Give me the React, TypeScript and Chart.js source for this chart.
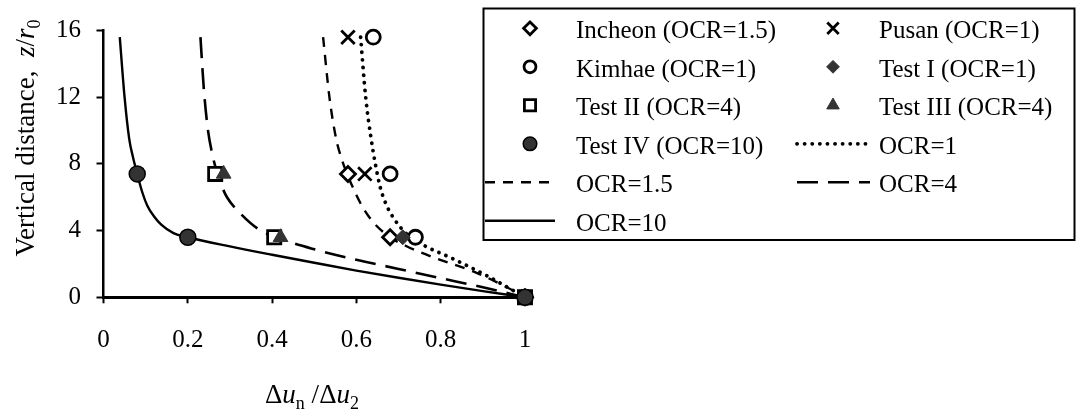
import React, { useEffect, useRef } from 'react';
import { Chart, registerables } from 'chart.js';
Chart.register(...registerables);

const FONT = '"Liberation Serif", "Times New Roman", serif';

const xTickValues = [0, 0.2, 0.4, 0.6, 0.8, 1];
const xTickLabels = ['0', '0.2', '0.4', '0.6', '0.8', '1'];
const yTickValues = [0, 4, 8, 12, 16];
const yTickLabels = ['0', '4', '8', '12', '16'];

// measured points
const incheonX = [0.58, 0.68, 1];
const incheonY = [7.4, 3.6, 0];
const pusanX = [0.58, 0.62, 1];
const pusanY = [15.6, 7.4, 0];
const kimhaeX = [0.64, 0.68, 0.74, 1];
const kimhaeY = [15.6, 7.4, 3.6, 0];
const test1X = [0.71, 1];
const test1Y = [3.6, 0];
const test2X = [0.265, 0.405, 1];
const test2Y = [7.4, 3.6, 0];
const test3X = [0.285, 0.42, 1];
const test3Y = [7.4, 3.6, 0];
const test4X = [0.08, 0.2, 1];
const test4Y = [7.4, 3.6, 0];

// predicted curves
const ocr1X = [0.61, 0.622, 0.635, 0.645, 0.656, 0.67, 0.688, 0.719, 0.751, 0.83, 0.909, 1];
const ocr1Y = [15.6, 12, 9.5, 8, 6.65, 5.6, 4.76, 3.8, 3.24, 2.3, 1.3, 0];
const ocr15X = [0.521, 0.536, 0.552, 0.565, 0.578, 0.595, 0.615, 0.64, 0.68, 0.719, 0.782, 0.877, 0.957, 1];
const ocr15Y = [15.6, 12, 9.5, 8.3, 7.4, 6.4, 5.4, 4.5, 3.6, 3.06, 2.4, 1.55, 0.6, 0];
const ocr4X = [0.23, 0.238, 0.248, 0.258, 0.268, 0.28, 0.293, 0.326, 0.37, 0.42, 0.5, 0.6, 0.7, 0.8, 0.9, 1];
const ocr4Y = [15.6, 12.5, 10, 8.6, 7.6, 6.7, 6, 5, 4.05, 3.5, 2.88, 2.25, 1.7, 1.15, 0.6, 0];
const ocr10X = [0.0386, 0.05, 0.061, 0.07, 0.08, 0.092, 0.104, 0.12, 0.137, 0.166, 0.2, 0.3, 0.4, 0.5, 0.6, 0.7, 0.8, 0.9, 1];
const ocr10Y = [15.6, 12, 9.5, 8.4, 7.4, 6.3, 5.49, 4.85, 4.36, 3.85, 3.6, 3.05, 2.55, 2.07, 1.6, 1.17, 0.76, 0.37, 0];

const zip = (xs: number[], ys: number[]) => xs.map((x, i) => ({ x, y: ys[i] }));

function drawMarker(ctx: CanvasRenderingContext2D, style: string, x: number, y: number, r: number, bg: string, border: string, bw: number) {
  ctx.save();
  ctx.fillStyle = bg;
  ctx.strokeStyle = border;
  ctx.lineWidth = bw;
  ctx.beginPath();
  if (style === 'circle') {
    ctx.arc(x, y, r, 0, Math.PI * 2);
    ctx.closePath();
    ctx.fill();
    if (bw > 0) ctx.stroke();
  } else if (style === 'rectRot') {
    ctx.moveTo(x, y - r);
    ctx.lineTo(x + r, y);
    ctx.lineTo(x, y + r);
    ctx.lineTo(x - r, y);
    ctx.closePath();
    ctx.fill();
    if (bw > 0) ctx.stroke();
  } else if (style === 'rect') {
    const s = r / Math.SQRT2;
    ctx.rect(x - s, y - s, 2 * s, 2 * s);
    ctx.fill();
    if (bw > 0) ctx.stroke();
  } else if (style === 'triangle') {
    let a = 0;
    ctx.moveTo(x + Math.sin(a) * r, y - Math.cos(a) * r);
    a += (2 * Math.PI) / 3;
    ctx.lineTo(x + Math.sin(a) * r, y - Math.cos(a) * r);
    a += (2 * Math.PI) / 3;
    ctx.lineTo(x + Math.sin(a) * r, y - Math.cos(a) * r);
    ctx.closePath();
    ctx.fill();
    if (bw > 0) ctx.stroke();
  } else if (style === 'crossRot') {
    const d = r * Math.SQRT1_2;
    ctx.moveTo(x - d, y - d);
    ctx.lineTo(x + d, y + d);
    ctx.moveTo(x + d, y - d);
    ctx.lineTo(x - d, y + d);
    ctx.stroke();
  }
  ctx.restore();
}

type Seg = { t: string; it?: boolean; sub?: boolean };

function drawRich(ctx: CanvasRenderingContext2D, segs: Seg[], cx: number, baseline: number, size: number) {
  const subSize = Math.round(size * 0.68);
  const fontOf = (s: Seg) => `${s.it ? 'italic ' : ''}${s.sub ? subSize : size}px ${FONT}`;
  let total = 0;
  const widths = segs.map((s) => {
    ctx.font = fontOf(s);
    const w = ctx.measureText(s.t).width;
    total += w;
    return w;
  });
  let x = cx - total / 2;
  ctx.textAlign = 'left';
  ctx.textBaseline = 'alphabetic';
  ctx.fillStyle = '#000';
  segs.forEach((s, i) => {
    ctx.font = fontOf(s);
    ctx.fillText(s.t, x, baseline + (s.sub ? size * 0.22 : 0));
    x += widths[i];
  });
}

const legendPlugin = {
  id: 'boxLegend',
  afterDraw(chart: any) {
    const ctx: CanvasRenderingContext2D = chart.ctx;
    ctx.save();
    ctx.lineWidth = 2;
    ctx.strokeStyle = '#000';
    ctx.strokeRect(483.5, 8.5, 591, 231.5);
    const cols = [
      { lx0: 485, lx1: 555, mx: 530, tx: 576 },
      { lx0: 797, lx1: 870, mx: 833, tx: 879 },
    ];
    chart.data.datasets.forEach((ds: any, i: number) => {
      const row = Math.floor(i / 2);
      const col = cols[i % 2];
      const y = 28.3 + row * 38.5;
      if (ds.showLine) {
        ctx.save();
        ctx.beginPath();
        ctx.strokeStyle = '#000';
        ctx.lineWidth = ds.borderWidth;
        ctx.lineCap = ds.borderCapStyle || 'butt';
        ctx.setLineDash(ds.borderDash || []);
        ctx.moveTo(col.lx0, y);
        ctx.lineTo(col.lx1, y);
        ctx.stroke();
        ctx.restore();
      } else {
        drawMarker(ctx, ds.pointStyle, col.mx, y, ds.pointRadius * 0.85, ds.pointBackgroundColor, ds.pointBorderColor, ds.pointBorderWidth);
      }
      ctx.font = `25px ${FONT}`;
      ctx.fillStyle = '#000';
      ctx.textAlign = 'left';
      ctx.textBaseline = 'alphabetic';
      ctx.fillText(ds.label, col.tx, y + 10);
    });
    ctx.restore();
  },
};

const titlePlugin = {
  id: 'richTitles',
  afterDraw(chart: any) {
    const ctx: CanvasRenderingContext2D = chart.ctx;
    ctx.save();
    drawRich(
      ctx,
      [{ t: '\u0394' }, { t: 'u', it: true }, { t: 'n', sub: true }, { t: ' /\u0394' }, { t: 'u', it: true }, { t: '2', sub: true }],
      312,
      403,
      27
    );
    ctx.restore();
    ctx.save();
    ctx.translate(34, 138);
    ctx.rotate(-Math.PI / 2);
    drawRich(
      ctx,
      [{ t: 'Vertical distance,  ' }, { t: 'z', it: true }, { t: '/' }, { t: 'r', it: true }, { t: '0', sub: true }],
      0,
      0,
      27
    );
    ctx.restore();
  },
};

export default function App() {
  const ref = useRef<HTMLCanvasElement>(null);
  useEffect(() => {
    if (!ref.current) return;
    const marker = (label: string, xs: number[], ys: number[], style: string, r: number, bg: string, border: string, bw: number, order: number) => ({
      label,
      data: zip(xs, ys),
      showLine: false,
      pointStyle: style,
      pointRadius: r,
      pointHoverRadius: r,
      pointBackgroundColor: bg,
      pointBorderColor: border,
      pointBorderWidth: bw,
      backgroundColor: bg,
      borderColor: border,
      order,
      clip: false,
    });
    const line = (label: string, xs: number[], ys: number[], dash: number[], cap: string, width: number) => ({
      label,
      data: zip(xs, ys),
      showLine: true,
      pointRadius: 0,
      pointHoverRadius: 0,
      borderColor: '#000',
      backgroundColor: '#000',
      borderWidth: width,
      borderDash: dash,
      borderCapStyle: cap,
      cubicInterpolationMode: 'monotone',
      fill: false,
      order: 100,
      clip: false,
    });
    const datasets: any[] = [
      marker('Incheon (OCR=1.5)', incheonX, incheonY, 'rectRot', 7.5, '#fff', '#000', 2.8, 20),
      marker('Pusan (OCR=1)', pusanX, pusanY, 'crossRot', 9.5, '#000', '#000', 2.8, 19),
      marker('Kimhae (OCR=1)', kimhaeX, kimhaeY, 'circle', 7, '#fff', '#000', 2.8, 18),
      marker('Test I (OCR=1)', test1X, test1Y, 'rectRot', 7.5, '#333', '#333', 1, 17),
      marker('Test II (OCR=4)', test2X, test2Y, 'rect', 9.3, '#fff', '#000', 2.8, 16),
      marker('Test III (OCR=4)', test3X, test3Y, 'triangle', 8.5, '#333', '#333', 1, 15),
      marker('Test IV (OCR=10)', test4X, test4Y, 'circle', 8, '#333', '#000', 1.5, 14),
      line('OCR=1', ocr1X, ocr1Y, [0.1, 7.5], 'round', 3.8),
      line('OCR=1.5', ocr15X, ocr15Y, [10, 8], 'butt', 2.4),
      line('OCR=4', ocr4X, ocr4Y, [21, 10], 'butt', 2.6),
      line('OCR=10', ocr10X, ocr10Y, [], 'butt', 2.4),
    ];
    const chart = new Chart(ref.current, {
      type: 'scatter',
      data: { datasets },
      plugins: [legendPlugin, titlePlugin],
      options: {
        responsive: true,
        maintainAspectRatio: false,
        animation: false,
        layout: { padding: { left: 0, top: 15, right: 558, bottom: 0 } },
        plugins: { legend: { display: false }, tooltip: { enabled: false } },
        scales: {
          x: {
            type: 'linear',
            min: 0,
            max: 1,
            afterBuildTicks: (s: any) => {
              s.ticks = xTickValues.map((v) => ({ value: v }));
            },
            afterFit: (s: any) => {
              s.height = 409 - 297.3;
            },
            ticks: {
              callback: (_v: any, i: number) => xTickLabels[i],
              color: '#000',
              font: { family: FONT, size: 25 },
              padding: 22,
              maxRotation: 0,
              autoSkip: false,
            },
            grid: { drawOnChartArea: false, drawTicks: true, tickLength: 6, tickWidth: 2, tickColor: '#000' },
            border: { display: true, color: '#000', width: 3 },
          },
          y: {
            type: 'linear',
            min: 0,
            max: 16,
            afterBuildTicks: (s: any) => {
              s.ticks = yTickValues.map((v) => ({ value: v }));
            },
            afterFit: (s: any) => {
              s.width = 103.5;
            },
            ticks: {
              callback: (_v: any, i: number) => yTickLabels[i],
              color: '#000',
              font: { family: FONT, size: 25 },
              padding: 15.5,
              autoSkip: false,
            },
            grid: { drawOnChartArea: false, drawTicks: true, tickLength: 7, tickWidth: 2, tickColor: '#000' },
            border: { display: true, color: '#000', width: 2.5 },
          },
        },
      } as any,
    });
    return () => chart.destroy();
  }, []);
  return (
    <div style={{ position: 'fixed', left: 0, top: 0, width: 1083, height: 409, background: '#fff' }}>
      <canvas ref={ref} />
    </div>
  );
}
